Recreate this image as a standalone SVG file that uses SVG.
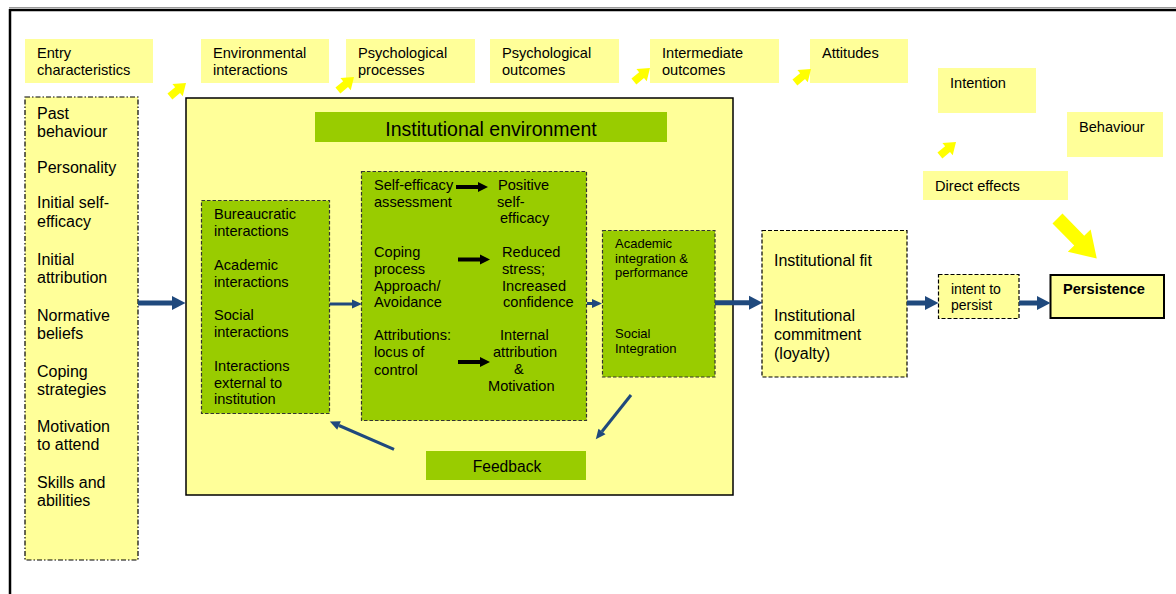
<svg xmlns="http://www.w3.org/2000/svg" width="1176" height="594" viewBox="0 0 1176 594">
<defs>
<style>
text{font-family:"Liberation Sans",Arial,sans-serif;fill:#000;}
.t14{font-size:14.6px;}
.t16{font-size:16px;}
.t13{font-size:13px;}
.lab{fill:#FFFF99;stroke:none;}
.gr{fill:#99CC00;}
.grd{fill:#99CC00;stroke:#333;stroke-width:1.2;stroke-dasharray:3.5 2;}
.yd{fill:#FFFF99;stroke:#000;stroke-width:1.2;stroke-dasharray:4 2;}
.blueT{stroke:#1F497D;stroke-width:5;fill:none;}
.blueS{stroke:#1F497D;stroke-width:3;fill:none;}
.blk{stroke:#000;stroke-width:4;fill:none;}
.yarr{fill:#FFFF00;}
</style>
<marker id="hBig" markerUnits="userSpaceOnUse" orient="auto" refX="0" refY="0" markerWidth="20" markerHeight="20" overflow="visible"><path d="M0,-7 L13.5,0 L0,7 z" fill="#1F497D"/></marker>
<marker id="hSmall" markerUnits="userSpaceOnUse" orient="auto" refX="0" refY="0" markerWidth="20" markerHeight="20" overflow="visible"><path d="M0,-4.5 L10,0 L0,4.5 z" fill="#1F497D"/></marker>
<marker id="hBlk" markerUnits="userSpaceOnUse" orient="auto" refX="0" refY="0" markerWidth="20" markerHeight="20" overflow="visible"><path d="M0,-5 L10,0 L0,5 z" fill="#000"/></marker>
<path id="ysmall" d="M0,-3.8 L10,-3.8 L10,-8 L21,0 L10,8 L10,3.8 L0,3.8 z"/>
</defs>
<rect x="0" y="0" width="1176" height="594" fill="#fff"/>
<g id="frame">
<line x1="9" y1="7.5" x2="1176" y2="7.5" stroke="#999" stroke-width="1"/>
<line x1="9" y1="10" x2="1176" y2="10" stroke="#000" stroke-width="2.5"/>
<line x1="10" y1="9" x2="10" y2="594" stroke="#000" stroke-width="2.5"/>
</g>
<g id="labels">
<g id="lab-entry"><rect class="lab" x="25" y="39" width="128" height="44"/><text class="t14" x="37" y="58">Entry</text><text class="t14" x="37" y="74.5">characteristics</text></g>
<g id="lab-env"><rect class="lab" x="201" y="39" width="128" height="44"/><text class="t14" x="213" y="58">Environmental</text><text class="t14" x="213" y="74.5">interactions</text></g>
<g id="lab-pproc"><rect class="lab" x="346" y="39" width="129" height="44"/><text class="t14" x="358" y="58">Psychological</text><text class="t14" x="358" y="74.5">processes</text></g>
<g id="lab-pout"><rect class="lab" x="490" y="39" width="129" height="44"/><text class="t14" x="502" y="58">Psychological</text><text class="t14" x="502" y="74.5">outcomes</text></g>
<g id="lab-inter"><rect class="lab" x="650" y="39" width="129" height="44"/><text class="t14" x="662" y="58">Intermediate</text><text class="t14" x="662" y="74.5">outcomes</text></g>
<g id="lab-att"><rect class="lab" x="810" y="39" width="98" height="44"/><text class="t14" x="822" y="58">Attitudes</text></g>
<g id="lab-int"><rect class="lab" x="938" y="68" width="98" height="45"/><text class="t14" x="950" y="88">Intention</text></g>
<g id="lab-beh"><rect class="lab" x="1067" y="112" width="96" height="45"/><text class="t14" x="1079" y="132">Behaviour</text></g>
<g id="lab-direct"><rect class="lab" x="923" y="171" width="145" height="29"/><text class="t14" x="935" y="191">Direct effects</text></g>
</g>
<g id="yellow-arrows" class="yarr">
<use href="#ysmall" transform="translate(186,83) rotate(-40) translate(-21,0)"/>
<use href="#ysmall" transform="translate(354,77) rotate(-40) translate(-21,0)"/>
<use href="#ysmall" transform="translate(650,68) rotate(-40) translate(-21,0)"/>
<use href="#ysmall" transform="translate(811,69) rotate(-40) translate(-21,0)"/>
<use href="#ysmall" transform="translate(956,142) rotate(-40) translate(-21,0)"/>
<path d="M0,-7 L31,-7 L31,-16 L56,0 L31,16 L31,7 L0,7 z" transform="translate(1057.5,218.5) rotate(45.5)"/>
</g>
<g id="entry-column">
<rect x="25" y="97" width="113" height="463" fill="#FFFF99" stroke="#000" stroke-width="1.2" stroke-dasharray="5 2 1.5 2"/>
<text class="t16" x="37" y="119">Past</text>
<text class="t16" x="37" y="136.5">behaviour</text>
<text class="t16" x="37" y="172.5">Personality</text>
<text class="t16" x="37" y="208">Initial self-</text>
<text class="t16" x="37" y="226.5">efficacy</text>
<text class="t16" x="37" y="265">Initial</text>
<text class="t16" x="37" y="282.5">attribution</text>
<text class="t16" x="37" y="320.5">Normative</text>
<text class="t16" x="37" y="338.5">beliefs</text>
<text class="t16" x="37" y="377">Coping</text>
<text class="t16" x="37" y="394.5">strategies</text>
<text class="t16" x="37" y="431.5">Motivation</text>
<text class="t16" x="37" y="450">to attend</text>
<text class="t16" x="37" y="487.5">Skills and</text>
<text class="t16" x="37" y="506">abilities</text>
</g>
<g id="institutional-environment">
<rect x="186" y="98" width="547" height="397" fill="#FFFF99" stroke="#000" stroke-width="1.5"/>
<rect class="gr" x="315" y="112" width="352" height="30"/>
<text x="491" y="136" text-anchor="middle" style="font-size:19.5px">Institutional environment</text>
</g>
<g id="interactions">
<rect class="grd" x="201.5" y="200.5" width="128" height="213"/>
<text class="t14" x="214" y="219">Bureaucratic</text>
<text class="t14" x="214" y="236">interactions</text>
<text class="t14" x="214" y="270">Academic</text>
<text class="t14" x="214" y="287">interactions</text>
<text class="t14" x="214" y="320">Social</text>
<text class="t14" x="214" y="337">interactions</text>
<text class="t14" x="214" y="370.5">Interactions</text>
<text class="t14" x="214" y="387.5">external to</text>
<text class="t14" x="214" y="404">institution</text>
</g>
<g id="processes">
<rect class="grd" x="361.5" y="171.5" width="225" height="249"/>
<text class="t14" x="374" y="190">Self-efficacy</text>
<text class="t14" x="374" y="206.7">assessment</text>
<text class="t14" x="498" y="190">Positive</text>
<text class="t14" x="497" y="207.3">self-</text>
<text class="t14" x="500" y="223.3">efficacy</text>
<text class="t14" x="374" y="256.7">Coping</text>
<text class="t14" x="374" y="273.7">process</text>
<text class="t14" x="374" y="290.7">Approach/</text>
<text class="t14" x="374" y="307">Avoidance</text>
<text class="t14" x="502" y="256.7">Reduced</text>
<text class="t14" x="502" y="273.7">stress;</text>
<text class="t14" x="502" y="290.7">Increased</text>
<text class="t14" x="503" y="307">confidence</text>
<text class="t14" x="374" y="340">Attributions:</text>
<text class="t14" x="374" y="357">locus of</text>
<text class="t14" x="374" y="374.5">control</text>
<text class="t14" x="500" y="340">Internal</text>
<text class="t14" x="493" y="357">attribution</text>
<text class="t14" x="514" y="374">&amp;</text>
<text class="t14" x="488" y="390.7">Motivation</text>
</g>
<g id="integration">
<rect class="grd" x="602.5" y="230.5" width="112.5" height="146.5"/>
<text class="t13" x="615" y="247.5">Academic</text>
<text class="t13" x="615" y="262.7">integration &amp;</text>
<text class="t13" x="615" y="277">performance</text>
<text class="t13" x="615" y="337.5">Social</text>
<text class="t13" x="615" y="352.5">Integration</text>
</g>
<g id="feedback">
<rect class="gr" x="426" y="451" width="160" height="29"/>
<text x="507" y="471.5" text-anchor="middle" style="font-size:15.6px">Feedback</text>
</g>
<g id="institutional-fit">
<rect class="yd" x="762" y="230.5" width="145" height="146.5"/>
<text class="t16" x="774" y="265.5">Institutional fit</text>
<text class="t16" x="774" y="321">Institutional</text>
<text class="t16" x="774" y="340">commitment</text>
<text class="t16" x="774" y="358.5">(loyalty)</text>
</g>
<g id="intent">
<rect class="yd" x="938.5" y="274.5" width="80.5" height="44"/>
<text x="951" y="293.5" style="font-size:14px">intent to</text>
<text x="951" y="310" style="font-size:14px">persist</text>
</g>
<g id="persistence">
<rect x="1050.5" y="275" width="113.5" height="43" fill="#FFFF99" stroke="#000" stroke-width="2"/>
<text x="1063" y="293.5" style="font-size:14.6px;font-weight:bold">Persistence</text>
</g>
<g id="connectors">
<line class="blueT" x1="138" y1="303" x2="172" y2="303" marker-end="url(#hBig)"/>
<line class="blueS" x1="330" y1="304" x2="352" y2="304" marker-end="url(#hSmall)"/>
<line class="blueS" x1="587" y1="303.5" x2="592" y2="303.5" marker-end="url(#hSmall)"/>
<line class="blueT" x1="715" y1="302.8" x2="749" y2="302.8" marker-end="url(#hBig)"/>
<line class="blueT" x1="907" y1="303" x2="925" y2="303" marker-end="url(#hBig)"/>
<line class="blueT" x1="1019" y1="303" x2="1037" y2="303" marker-end="url(#hBig)"/>
<line class="blueS" x1="631" y1="395" x2="602" y2="431.5" marker-end="url(#hSmall)"/>
<line class="blueS" x1="394" y1="449.3" x2="339" y2="425.5" marker-end="url(#hSmall)"/>
<line class="blk" x1="456" y1="187" x2="478" y2="187" marker-end="url(#hBlk)"/>
<line class="blk" x1="458" y1="259.5" x2="480" y2="259.5" marker-end="url(#hBlk)"/>
<line class="blk" x1="458" y1="362" x2="480" y2="362" marker-end="url(#hBlk)"/>
</g>
</svg>
